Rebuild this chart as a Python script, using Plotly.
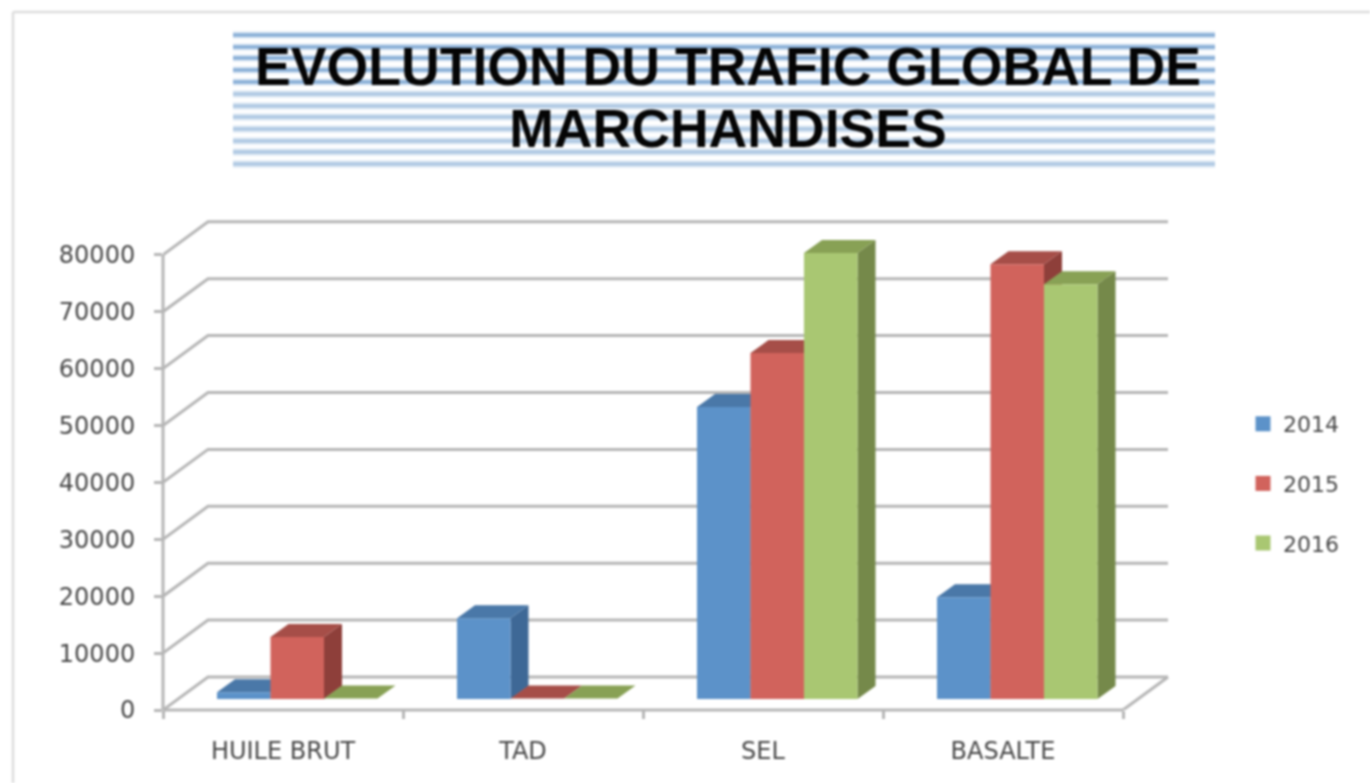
import plotly.graph_objects as go

# ---- data ----
categories = ["HUILE BRUT", "TAD", "SEL", "BASALTE"]
years = ["2014", "2015", "2016"]
v2014 = [1200, 14200, 51300, 17900]
v2015 = [10900, 100, 60800, 76400]
v2016 = [100, 100, 78400, 72900]
y_ticks = [0, 10000, 20000, 30000, 40000, 50000, 60000, 70000, 80000]
series = [v2014, v2015, v2016]

# ---- styles ----
front = ["#5C92C9", "#D1635C", "#A9C772"]
top = ["#4A78A8", "#A64E48", "#88A155"]
side = ["#3E6896", "#8E3F3A", "#75894A"]
grid = "#B6B6B6"
text = "#474747"
L, T, R, B = 163, 215, 1172, 710          # plot area in page pixels
PXX = 1 / 240                              # category units per pixel
PXY = 10000 / 56.9                         # value units per pixel
WALL_X, WALL_Y = 45 * PXX, 33 * PXY        # depth of the floor
BAR_X, BAR_Y = 15 * PXX, 11 * PXY          # bar set back from front
DEP_X, DEP_Y = 18 * PXX, 13 * PXY          # bar depth
GAP = 39 * PXX
BW = 53.5 * PXX
W, H = 1370, 783
XMAX = (R - L) * PXX
YMAX = (B - T) * PXY


def px(x):
    return (x - L) / (R - L)


def py(y):
    return (B - y) / (B - T)


fig = go.Figure()

# walls and gridlines
gx, gy = [], []
for t in y_ticks:
    gx += [0, WALL_X, 4 + WALL_X, None]
    gy += [t, t + WALL_Y, t + WALL_Y, None]
gx += [4, 4 + WALL_X]
gy += [0, WALL_Y]
fig.add_trace(go.Scatter(x=gx, y=gy, mode="lines", line=dict(color=grid, width=3),
                         hoverinfo="skip", showlegend=False, cliponaxis=False))

# bars: side, top and front faces, painted back to front for each series
for s, vals in enumerate(series):
    sx, sy, tx, ty, fx, fy = [], [], [], [], [], []
    for c, v in enumerate(vals):
        x0 = c + BAR_X + GAP + s * BW
        x1 = x0 + BW
        y0 = BAR_Y
        y1 = BAR_Y + v
        fx += [x0, x1, x1, x0, x0, None]
        fy += [y0, y0, y1, y1, y0, None]
        tx += [x0, x1, x1 + DEP_X, x0 + DEP_X, x0, None]
        ty += [y1, y1, y1 + DEP_Y, y1 + DEP_Y, y1, None]
        sx += [x1, x1 + DEP_X, x1 + DEP_X, x1, x1, None]
        sy += [y0, y0 + DEP_Y, y1 + DEP_Y, y1, y0, None]
    for xs, ys, col in ((sx, sy, side[s]), (tx, ty, top[s]), (fx, fy, front[s])):
        fig.add_trace(go.Scatter(x=xs, y=ys, mode="lines", fill="toself", fillcolor=col,
                                 line=dict(width=0, color=col), hoverinfo="skip",
                                 showlegend=False, cliponaxis=False))

# legend entries
for s, yr in enumerate(years):
    fig.add_trace(go.Scatter(x=[None], y=[None], mode="markers", name=yr, legendgroup=yr,
                             marker=dict(symbol="square", size=15, color=front[s])))

# title stripes
shapes = []
for i in range(12):
    yy = round(35 + i * 11.75)
    col = "#8FB3D9" if i < 5 else "#B3CBE4"
    shapes.append(dict(type="rect", xref="paper", yref="paper", layer="below",
                       x0=px(233), x1=px(1215), y0=py(yy - 4), y1=py(yy + 4),
                       fillcolor="#E6EEF7", line_width=0))
    shapes.append(dict(type="rect", xref="paper", yref="paper", layer="below",
                       x0=px(233), x1=px(1215), y0=py(yy - 2), y1=py(yy + 2),
                       fillcolor=col, line_width=0))
# chart frame
shapes.append(dict(type="line", xref="paper", yref="paper", layer="below",
                   x0=px(13), x1=px(13), y0=py(12), y1=py(790), line=dict(color="#DDDDDD", width=2.5)))
shapes.append(dict(type="line", xref="paper", yref="paper", layer="below",
                   x0=px(13), x1=px(1375), y0=py(12), y1=py(12), line=dict(color="#DDDDDD", width=2.5)))
# front axis lines
shapes.append(dict(type="line", xref="paper", yref="paper", layer="below",
                   x0=0, x1=0, y0=0, y1=y_ticks[-1] / YMAX, line=dict(color=grid, width=3)))
shapes.append(dict(type="line", xref="paper", yref="paper", layer="below",
                   x0=0, x1=len(categories) / XMAX, y0=0, y1=0, line=dict(color=grid, width=3)))

fig.update_layout(
    width=W, height=H, paper_bgcolor="white", plot_bgcolor="rgba(0,0,0,0)",
    margin=dict(l=L, r=W - R, t=T, b=H - B, autoexpand=False),
    showlegend=True,
    title=dict(text='<span style="font-size:53.6px">EVOLUTION DU TRAFIC GLOBAL DE<br>MARCHANDISES</span>',
               x=728 / W, xanchor="center", y=1 - 85 / H, yanchor="top",
               font=dict(family="Liberation Sans", size=48, color="#050505", weight="bold")),
    legend=dict(x=px(1243), xanchor="left", y=py(403), yanchor="top", tracegroupgap=28,
                bgcolor="rgba(0,0,0,0)", font=dict(family="DejaVu Sans", size=22, color=text)),
    shapes=shapes,
    xaxis=dict(range=[0, XMAX], showgrid=False, zeroline=False, showline=False,
               tickmode="array", tickvals=[0.5, 1.5, 2.5, 3.5], ticktext=categories,
               ticks="outside", ticklen=19, tickcolor="rgba(0,0,0,0)",
               tickfont=dict(family="DejaVu Sans", size=24, color=text),
               minor=dict(tickmode="array", tickvals=[0, 1, 2, 3, 4], ticks="outside", ticklen=8,
                          tickwidth=3, tickcolor=grid)),
    yaxis=dict(range=[0, YMAX], showgrid=False, zeroline=False, showline=False,
               tickmode="array", tickvals=y_ticks, ticks="outside", ticklen=8, tickwidth=3,
               tickcolor=grid, ticklabelstandoff=14, tickformat="d",
               tickfont=dict(family="DejaVu Sans", size=24, color=text)),
)

fig.write_html("out.html", config=dict(displayModeBar=False),
               post_script="document.body.style.margin='0';document.body.style.overflow='hidden';"
                           "document.body.style.filter='blur(0.9px)';")
